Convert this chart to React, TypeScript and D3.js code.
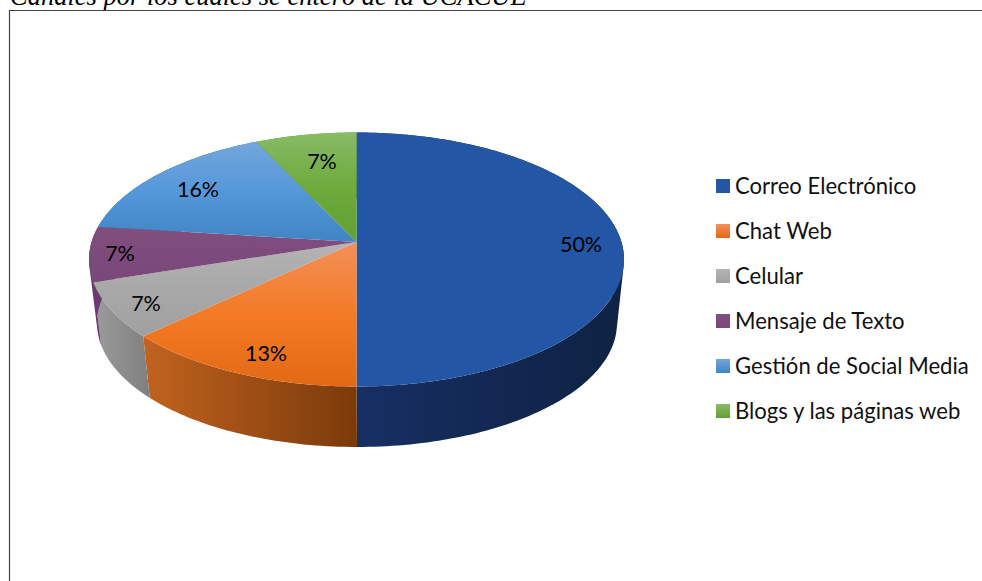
import React from "react";
import * as d3 from "d3";

const categories = ["Correo Electrónico", "Chat Web", "Celular", "Mensaje de Texto", "Gestión de Social Media", "Blogs y las páginas web"];
const shares = [50, 13, 7, 7, 16, 7];
const percentLabels = ["50%", "13%", "7%", "7%", "16%", "7%"];
const faceStops = [
  ["#2456A6", "#2456A6", "#2456A6"],
  ["#F2905A", "#F47A25", "#E36A14"],
  ["#B4B4B4", "#A8A8A8", "#A0A0A0"],
  ["#82507F", "#7D4A7C", "#7A4779"],
  ["#74A6DB", "#5498DA", "#4184C4"],
  ["#88BC66", "#6EAA3C", "#62A033"],
];
const wallStops = [
  ["#172F63", "#0E2243"],
  ["#C2631F", "#7A3A0A"],
  ["#9C9C9C", "#7F7F7F"],
  ["#6A3A70", "#6A3A70"],
  ["#2F6EA8", "#2F6EA8"],
  ["#4F8A2A", "#4F8A2A"],
];
const labelAnchors = [[581, 244], [266, 353], [146, 303], [120, 253], [198, 189], [322, 161]];

const WIDTH = 982;
const HEIGHT = 581;

// Disc tilt: a homography sends the unit circle to the rim ellipse, so the apex sits above the ellipse centre.
const rimTop = { cx: 356.5, cy: 259.5, rx: 267.5, ry: 127 };
const rimBottom = { cx: 357, cy: 323, rx: 260, ry: 124 };
const tilt = -17.5 / 127;

function project(rim: typeof rimTop, angle: number): [number, number] {
  const a = rim.rx * Math.sqrt(1 - tilt * tilt);
  const u = Math.sin(angle);
  const v = -Math.cos(angle);
  const w = 1 + tilt * v;
  return [rim.cx + (a * u) / w, rim.cy + (rim.ry * (v + tilt)) / w];
}

function arcPoints(rim: typeof rimTop, a0: number, a1: number) {
  const steps = Math.max(2, Math.ceil(Math.abs(a1 - a0) / 0.02));
  return d3.range(steps + 1).map((i) => project(rim, a0 + ((a1 - a0) * i) / steps));
}

// The side wall is a run of small quads between the two rims, all wound the same way so they fill as one shape.
function wallPath(a0: number, a1: number) {
  const top = arcPoints(rimTop, a0, a1);
  const bottom = arcPoints(rimBottom, a0, a1);
  return d3.range(top.length - 1)
    .map((i) => {
      const quad: [number, number][] = [top[i], top[i + 1], bottom[i + 1], bottom[i]];
      if (d3.polygonArea(quad) < 0) quad.reverse();
      return outline(quad) + "Z";
    })
    .join("");
}

const pieLayout = d3.pie<number>().sort(null).value((d) => d);
const slices = pieLayout(shares);
const outline = d3.line();
const apex: [number, number] = [rimTop.cx, rimTop.cy + tilt * rimTop.ry];

const legendY = d3.scalePoint<number>().domain(d3.range(categories.length)).range([186, 411]);

export default function App() {
  return (
    <svg
      width={WIDTH}
      height={HEIGHT}
      viewBox={`0 0 ${WIDTH} ${HEIGHT}`}
      style={{ position: "absolute", left: 0, top: 0, background: "#fff" }}
    >
      <defs>
        {faceStops.map((stops, i) => (
          <linearGradient key={i} id={`face${i}`} x1="0" y1="0" x2="0" y2="1">
            <stop offset="0" stopColor={stops[0]} />
            <stop offset="0.5" stopColor={stops[1]} />
            <stop offset="1" stopColor={stops[2]} />
          </linearGradient>
        ))}
        {wallStops.map((stops, i) => (
          <linearGradient key={i} id={`wall${i}`} x1="0" y1="0" x2="1" y2="0">
            <stop offset="0" stopColor={stops[0]} />
            <stop offset="1" stopColor={stops[1]} />
          </linearGradient>
        ))}
        {faceStops.map((stops, i) => (
          <linearGradient key={i} id={`key${i}`} x1="0" y1="0" x2="0" y2="1">
            <stop offset="0" stopColor={stops[0]} />
            <stop offset="1" stopColor={stops[2]} />
          </linearGradient>
        ))}
      </defs>

      <text x={10} y={5} fontFamily="'Liberation Serif'" fontStyle="italic" fontSize={26.5} fill="#000">
        Canales por los cuales se enteró de la UCACUE
      </text>
      <path d={`M9.5,${HEIGHT}V10.5H${WIDTH}`} fill="none" stroke="#444" strokeWidth={1.2} />

      {slices.map((s, i) => (
        <path key={i} d={wallPath(s.startAngle, s.endAngle)} fill={`url(#wall${i})`} />
      ))}
      {slices.map((s, i) => {
        const pts = [apex, ...arcPoints(rimTop, s.startAngle, s.endAngle)];
        return <path key={i} d={outline(pts) + "Z"} fill={`url(#face${i})`} />;
      })}

      {percentLabels.map((t, i) => (
        <text
          key={i}
          x={labelAnchors[i][0]}
          y={labelAnchors[i][1]}
          textAnchor="middle"
          dominantBaseline="central"
          fontFamily="Lato"
          fontSize={21.5}
          fill="#000"
        >
          {t}
        </text>
      ))}

      {categories.map((c, i) => (
        <g key={c} transform={`translate(0,${legendY(i)})`}>
          <rect x={716} y={-7} width={14} height={14} fill={`url(#key${i})`} />
          <text x={735} y={-1} dominantBaseline="central" fontFamily="Lato" fontSize={22.1} fill="#111">
            {c}
          </text>
        </g>
      ))}
    </svg>
  );
}
